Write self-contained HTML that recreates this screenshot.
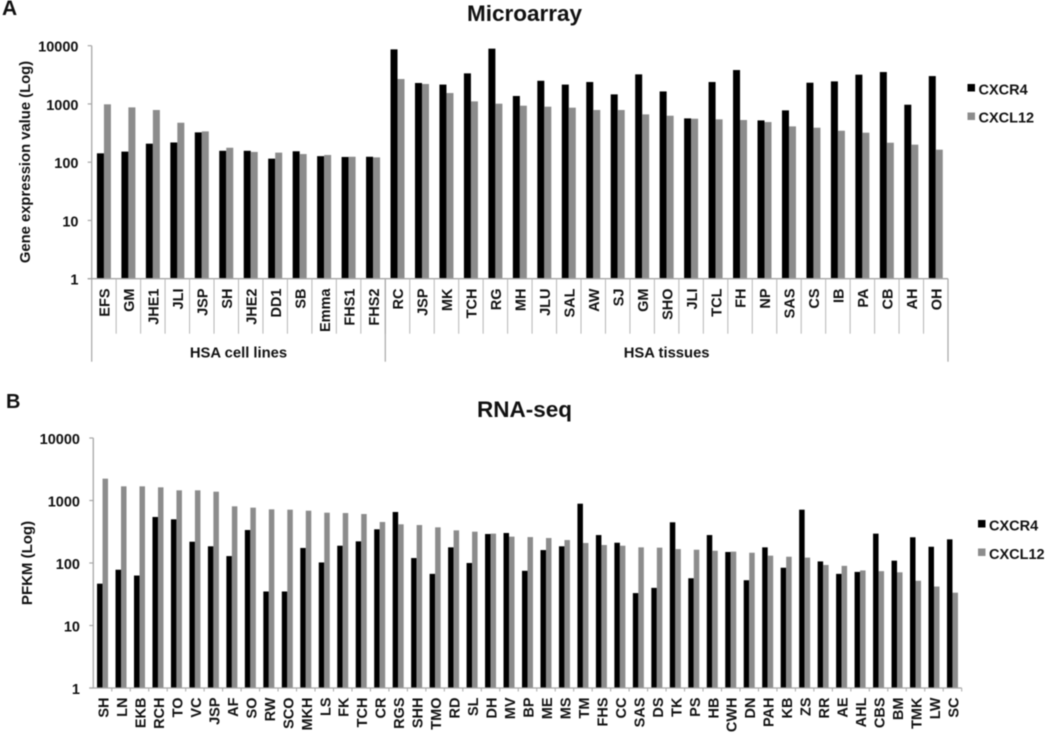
<!DOCTYPE html>
<html lang="en">
<head>
<meta charset="utf-8">
<title>CXCR4 and CXCL12 expression</title>
<style>
html,body{margin:0;padding:0;background:#fff;width:1050px;height:734px;overflow:hidden}
svg{display:block;filter:blur(.45px)}
text{font-family:"Liberation Sans",sans-serif;font-weight:bold;fill:#111}
</style>
</head>
<body>
<svg id="figure" xmlns="http://www.w3.org/2000/svg" width="1050" height="734" viewBox="0 0 1050 734">
  <rect width="1050" height="734" fill="#fff"/>
  <text x="2" y="15" font-size="21">A</text>
  <text x="524.5" y="21" font-size="22.5" text-anchor="middle">Microarray</text>
  <text transform="translate(30,162) rotate(-90)" font-size="14.8" text-anchor="middle">Gene expression value (Log)</text>
  <rect x="967.5" y="84" width="7.5" height="7.5" fill="#000"/>
  <text x="978.5" y="94.3" font-size="14.5">CXCR4</text>
  <rect x="967.5" y="112.5" width="7.5" height="7.5" fill="#8c8c8c"/>
  <text x="978.5" y="122.5" font-size="14.5">CXCL12</text>

  <text x="6" y="408" font-size="20">B</text>
  <text x="524.5" y="417" font-size="22.5" text-anchor="middle">RNA-seq</text>
  <text transform="translate(32,563) rotate(-90)" font-size="15" text-anchor="middle">PFKM (Log)</text>
  <rect x="978" y="520" width="7.5" height="7.5" fill="#000"/>
  <text x="989" y="530.3" font-size="14.5">CXCR4</text>
  <rect x="978" y="548.5" width="7.5" height="7.5" fill="#8c8c8c"/>
  <text x="989" y="559" font-size="14.5">CXCL12</text>
</svg>
<script>
var yTickValues = [1, 10, 100, 1000, 10000];
var yTickLabels = ['1', '10', '100', '1000', '10000'];

var microarrayCategories = ['EFS','GM','JHE1','JLI','JSP','SH','JHE2','DD1','SB','Emma','FHS1','FHS2','RC','JSP','MK','TCH','RG','MH','JLU','SAL','AW','SJ','GM','SHO','JLI','TCL','FH','NP','SAS','CS','IB','PA','CB','AH','OH'];
var microarrayCxcr4 = [142,152,208,218,325,157,157,115,154,127,123,124,8650,2290,2150,3350,8900,1370,2500,2150,2380,1460,3220,1640,565,2380,3820,522,776,2315,2440,3180,3530,970,3010];
var microarrayCxcl12 = [985,873,787,476,338,177,150,146,138,133,124,121,2680,2200,1540,1107,1010,933,897,863,787,787,662,628,558,544,530,489,412,391,347,321,216,200,164];
var microarrayGroups = ['HSA cell lines', 'HSA tissues'];
var microarrayGroupSizes = [12, 23];

var rnaCategories = ['SH','LN','EKB','RCH','TO','VC','JSP','AF','SO','RW','SCO','MKH','LS','FK','TCH','CR','RGS','SHH','TMO','RD','SL','DH','MV','BP','ME','MS','TM','FHS','CC','SAS','DS','TK','PS','HB','CWH','DN','PAH','KB','ZS','RR','AE','AHL','CBS','BM','TMK','LW','SC'];
var rnaCxcr4 = [46.7,78,63,545,500,219,185,129,337,35,35,174,102,189,222,346,655,120,67,178,100,291,302,75,161,185,889,280,211,33,40,448,57,280,150,53,178,84,713,106,67,72,295,109,258,182,239];
var rnaCxcl12 = [2235,1686,1686,1625,1455,1455,1384,807,768,722,713,687,638,630,608,453,416,405,372,333,317,295,264,260,251,233,209,194,189,178,176,167,163,157,152,146,131,126,122,93,90,76,74,71,52,42,33.5];

var svg = document.getElementById('figure');
var NS = 'http://www.w3.org/2000/svg';
var AXIS = '#a6a6a6';

function make(tag, attrs) {
  var el = document.createElementNS(NS, tag);
  for (var k in attrs) el.setAttribute(k, attrs[k]);
  svg.appendChild(el);
  return el;
}

function drawChart(prefix, frame, categories, seriesA, seriesB) {
  var step = (frame.right - frame.left) / categories.length;
  function xScale(i) { return frame.left + step * i; }
  function yScale(v) { return frame.bottom - (Math.log(v) / Math.LN10) / 4 * (frame.bottom - frame.top); }

  categories.forEach(function (name, i) {
    var cx = xScale(i + 0.5);
    var bw = frame.barWidth;
    var top1 = yScale(seriesA[i]);
    var top2 = yScale(seriesB[i]);
    var b1 = make('rect', { x: cx - bw, y: top1, width: bw, height: frame.bottom - top1, fill: '#000' });
    
    
    var b2 = make('rect', { x: cx, y: top2, width: bw, height: frame.bottom - top2, fill: '#8c8c8c' });
    
    
    var lx = cx + frame.labelOffset;
    var t = make('text', { transform: 'translate(' + lx + ',' + frame.labelTop + ') rotate(-90)', 'font-size': 14.5, 'text-anchor': 'end' });
    t.textContent = name;
    
    
  });

  var yAxis = make('line', { x1: frame.left, x2: frame.left, y1: frame.top, y2: frame.bottom, stroke: AXIS, 'stroke-width': 1.3 });
  
  
  var xAxis = make('line', { x1: frame.left - 4, x2: frame.right, y1: frame.bottom, y2: frame.bottom, stroke: AXIS, 'stroke-width': 1.3 });
  
  

  yTickValues.forEach(function (v, i) {
    var y = yScale(v);
    var tick = make('line', { x1: frame.left - 4, x2: frame.left, y1: y, y2: y, stroke: AXIS, 'stroke-width': 1.2 });
    
    
    var label = make('text', { x: frame.tickLabelX, y: y + 6, 'font-size': 14.5, 'text-anchor': 'end' });
    label.textContent = yTickLabels[i];
    
    
  });

  for (var i = 1; i <= categories.length; i++) {
    var sep = make('line', { x1: xScale(i), x2: xScale(i), y1: frame.bottom, y2: frame.bottom + frame.sepLength, stroke: frame.sepColor, 'stroke-width': 1 });
    
    
  }
  return xScale;
}

var xA = drawChart('microarray', { left: 91.7, right: 948, top: 45.7, bottom: 278.7, barWidth: 7, labelOffset: 5.7, labelTop: 288.5, tickLabelX: 78.5, sepLength: 55, sepColor: '#b5b5b5' }, microarrayCategories, microarrayCxcr4, microarrayCxcl12);

var groupStart = 0;
var outerLeft = make('line', { x1: xA(0), x2: xA(0), y1: 278.7, y2: 361.7, stroke: AXIS, 'stroke-width': 1.2 });


microarrayGroups.forEach(function (group, g) {
  var groupEnd = groupStart + microarrayGroupSizes[g];
  var boundary = make('line', { x1: xA(groupEnd), x2: xA(groupEnd), y1: 278.7, y2: 361.7, stroke: AXIS, 'stroke-width': 1.2 });
  
  
  var label = make('text', { x: (xA(groupStart) + xA(groupEnd)) / 2, y: 357.7, 'font-size': 14.8, 'text-anchor': 'middle' });
  label.textContent = group;
  
  
  groupStart = groupEnd;
});

drawChart('rna-seq', { left: 93.3, right: 961.7, top: 438, bottom: 688, barWidth: 5.5, labelOffset: 6, labelTop: 697.5, tickLabelX: 80, sepLength: 3.5, sepColor: '#a6a6a6' }, rnaCategories, rnaCxcr4, rnaCxcl12);
</script>
</body>
</html>
